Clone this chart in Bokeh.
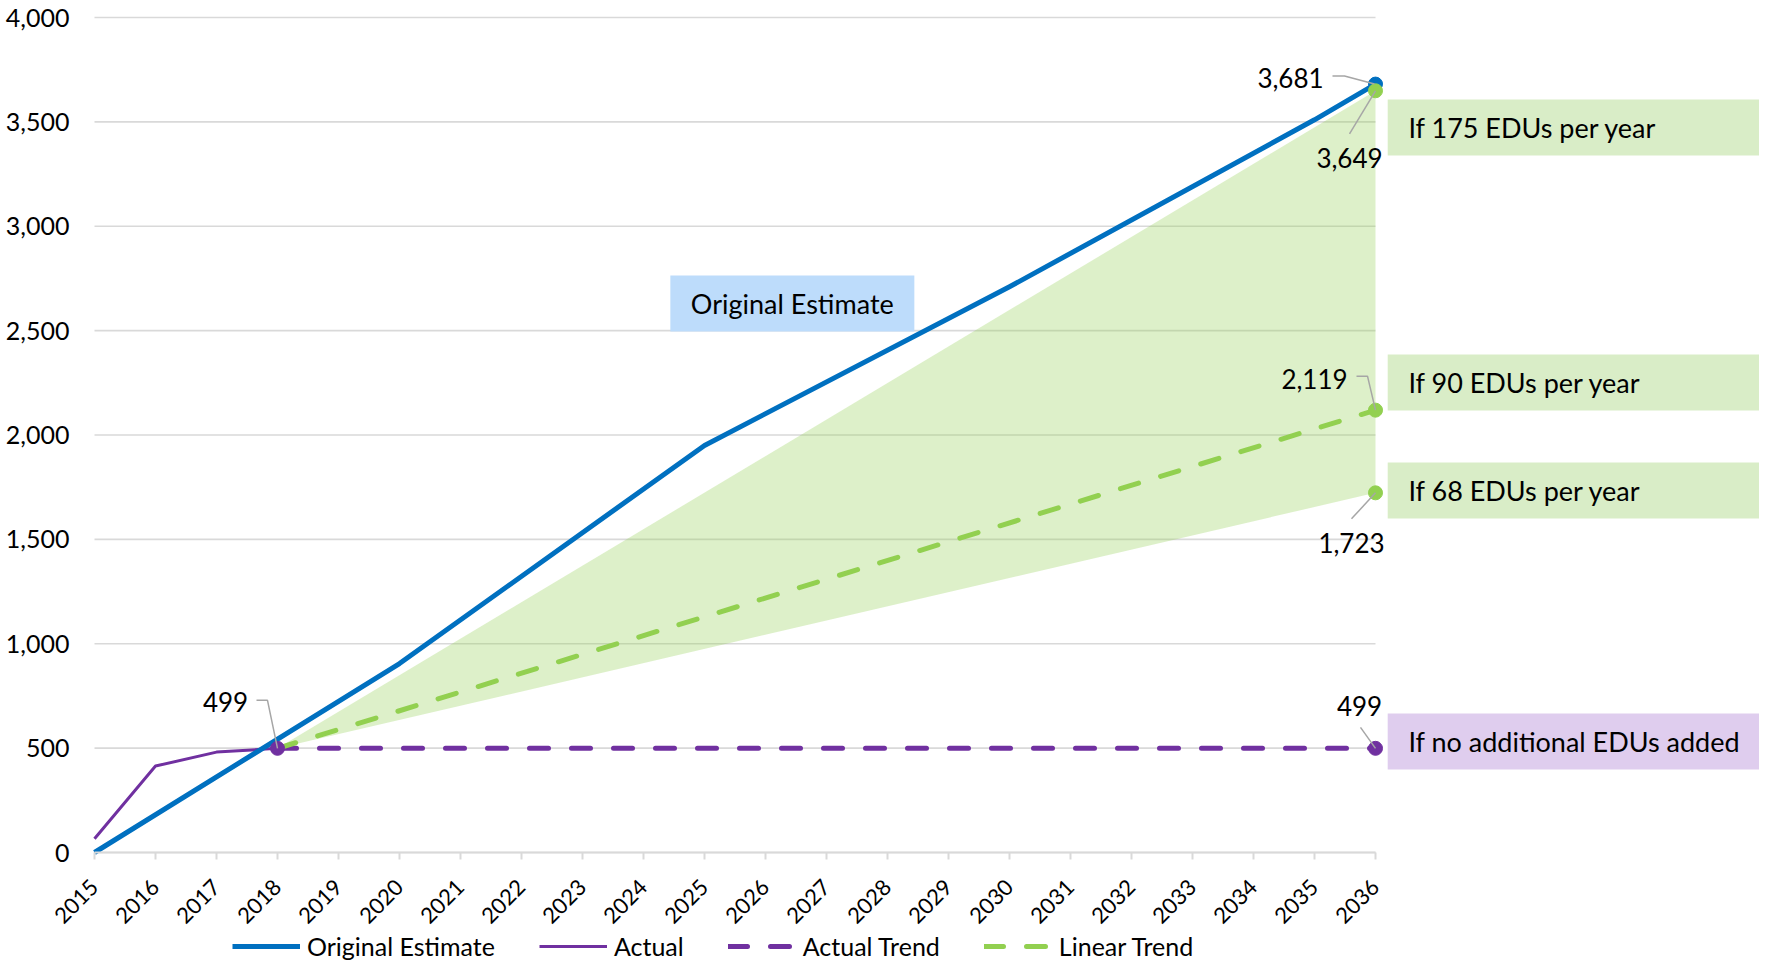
import math
from bokeh.plotting import figure
from bokeh.models import Range1d, FixedTicker, NumeralTickFormatter, Legend, LegendItem
from bokeh.core.properties import value
from bokeh.embed import file_html
from bokeh.resources import INLINE

# ---------------- data ----------------
YEARS = [2015, 2016, 2017, 2018, 2019, 2020, 2021, 2022, 2023, 2024, 2025,
         2026, 2027, 2028, 2029, 2030, 2031, 2032, 2033, 2034, 2035, 2036]
Y_TICKS = [0, 500, 1000, 1500, 2000, 2500, 3000, 3500, 4000]

EST_YEARS = [2015, 2020, 2025, 2030, 2035, 2036]
EST_VALUES = [0, 905, 1950, 2710, 3510, 3681]

ACT_YEARS = [2015, 2016, 2017, 2018]
ACT_VALUES = [66, 414, 481, 499]

TREND_YEARS = [2018, 2036]
ACT_TREND = [499, 499]
LIN_TREND = [499, 2119]      # 90 EDUs per year
HIGH_TREND = [499, 3649]     # 175 EDUs per year
LOW_TREND = [499, 1723]      # 68 EDUs per year

POINT_YEARS = [2018, 2036, 2036, 2036, 2036, 2036]
POINT_VALUES = [499, 3681, 3649, 2119, 1723, 499]

SCENARIO_TEXT = ["If 175 EDUs per year", "If 90 EDUs per year",
                 "If 68 EDUs per year", "If no additional EDUs added"]
LEGEND_LABELS = ["Original Estimate", "Actual", "Actual Trend", "Linear Trend"]
EST_BOX_TEXT = "Original Estimate"

# ---------------- styles / layout ----------------
BLUE = "#0070C0"
PURPLE = "#7030A0"
GREEN = "#92D050"
GRID = "#D9D9D9"
LEADER = "#A6A6A6"
FONT = "Lato"

FIG_W, FIG_H = 1759, 961
ORIGIN_X, ORIGIN_Y = 94, 852      # pixel position of (2015, 0)
XPX = 61.0                        # px per year
YPX = 0.20875                     # px per unit
X_START = YEARS[0] - ORIGIN_X / XPX
X_END = X_START + FIG_W / XPX
Y_END = ORIGIN_Y / YPX
Y_START = Y_END - FIG_H / YPX


def ox(x, dx):
    return x + dx / XPX


def oy(y, dy):
    return y - dy / YPX


p = figure(width=FIG_W, height=FIG_H, output_backend="svg", toolbar_location=None,
           x_range=Range1d(X_START, X_END), y_range=Range1d(Y_START, Y_END),
           min_border_left=0, min_border_right=0, min_border_top=0, min_border_bottom=0)
p.outline_line_color = None
p.grid.visible = False
p.background_fill_color = "white"

# gridlines limited to the data span
p.segment(x0=[YEARS[0]] * len(Y_TICKS), x1=[YEARS[-1]] * len(Y_TICKS),
          y0=Y_TICKS, y1=Y_TICKS, line_color=GRID, line_width=1.6)

# shaded band between 68 and 175 EDUs/yr
p.varea(x=TREND_YEARS, y1=LOW_TREND, y2=HIGH_TREND, fill_color=GREEN, fill_alpha=0.31)

r_act_trend = p.line(TREND_YEARS, ACT_TREND, line_color=PURPLE, line_width=5,
                     line_dash="19 23", line_cap="round")
r_lin_trend = p.line(TREND_YEARS, LIN_TREND, line_color=GREEN, line_width=5,
                     line_dash="19 23", line_cap="round")
r_act = p.line(ACT_YEARS, ACT_VALUES, line_color=PURPLE, line_width=3, line_join="round")
r_est = p.line(EST_YEARS, EST_VALUES, line_color=BLUE, line_width=5, line_join="round")

# markers
MARK_COLORS = [PURPLE, BLUE, GREEN, GREEN, GREEN, PURPLE]
p.scatter(x=POINT_YEARS, y=POINT_VALUES, fill_color=MARK_COLORS, line_color=MARK_COLORS, size=14)

# data labels and leader lines
LABEL_DX = [-52, -85, -26, -61, -24, -16]
LABEL_DY = [-46, -6, 67, -31, 50, -42]
LEADERS = [[(-21, -48), (-10, -48), (0, 0)],
           [(-43, -8), (-31, -8), (-1, 0)],
           [(-26, 43), (0, 0)],
           [(-19, -34), (-8, -34), (0, 0)],
           [(-24, 26), (0, 0)],
           [(-15, -21), (0, 0)]]
lx, ly = [], []
for x, y, pts in zip(POINT_YEARS, POINT_VALUES, LEADERS):
    lx.append([ox(x, d[0]) for d in pts])
    ly.append([oy(y, d[1]) for d in pts])
p.multi_line(xs=lx, ys=ly, line_color=LEADER, line_width=1.5)

p.text(x=[ox(x, dx) for x, dx in zip(POINT_YEARS, LABEL_DX)],
       y=[oy(y, dy) for y, dy in zip(POINT_VALUES, LABEL_DY)],
       text=[f"{v:,}" for v in POINT_VALUES],
       text_font=value(FONT), text_font_size="26px", text_color="#000000",
       text_align="center", text_baseline="middle")

# scenario callout boxes at right
BOX_LEFT = 2036.2
BOX_RIGHT = X_END + 1
BOX_TOP = [3607, 2386, 1868, 666]
BOX_BOTTOM = [3339, 2117, 1600, 398]
BOX_COLORS = ["#D9EDC7", "#D9EDC7", "#D9EDC7", "#DFCDEE"]
p.quad(left=[BOX_LEFT] * 4, right=[BOX_RIGHT] * 4, top=BOX_TOP, bottom=BOX_BOTTOM,
       fill_color=BOX_COLORS, line_color=None)
p.text(x=[2036.54] * 4, y=[(t + b) / 2 for t, b in zip(BOX_TOP, BOX_BOTTOM)],
       text=SCENARIO_TEXT, text_font=value(FONT), text_font_size="27px",
       text_color="#000000", text_align="left", text_baseline="middle")

# "Original Estimate" box
p.quad(left=[2024.44], right=[2028.44], top=[2764], bottom=[2496],
       fill_color="#BDDCFB", line_color=None)
p.text(x=[2026.44], y=[2630], text=[EST_BOX_TEXT], text_font=value(FONT),
       text_font_size="27px", text_color="#000000", text_align="center",
       text_baseline="middle")

# axes (pinned at the data origin)
xa = p.xaxis[0]
xa.fixed_location = 0
xa.ticker = FixedTicker(ticks=YEARS)
xa.bounds = (YEARS[0], YEARS[-1])
xa.axis_line_color = GRID
xa.axis_line_width = 2
xa.major_tick_line_color = GRID
xa.major_tick_line_width = 2
xa.major_tick_out = 7
xa.major_tick_in = 0
xa.minor_tick_line_color = None
xa.major_label_orientation = math.pi / 4
xa.major_label_text_font = FONT
xa.major_label_text_font_size = "22px"
xa.major_label_text_color = "#000000"
xa.major_label_standoff = 24

ya = p.yaxis[0]
ya.fixed_location = YEARS[0]
ya.ticker = FixedTicker(ticks=Y_TICKS)
ya.formatter = NumeralTickFormatter(format="0,0")
ya.axis_line_color = None
ya.major_tick_line_color = None
ya.major_tick_out = 0
ya.major_tick_in = 0
ya.minor_tick_line_color = None
ya.major_label_text_font = FONT
ya.major_label_text_font_size = "25px"
ya.major_label_text_color = "#000000"
ya.major_label_standoff = 25

legend = Legend(items=[LegendItem(label=LEGEND_LABELS[0], renderers=[r_est]),
                       LegendItem(label=LEGEND_LABELS[1], renderers=[r_act]),
                       LegendItem(label=LEGEND_LABELS[2], renderers=[r_act_trend]),
                       LegendItem(label=LEGEND_LABELS[3], renderers=[r_lin_trend])],
                orientation="horizontal", location=(232, 0),
                label_text_font=FONT, label_text_font_size="25px", label_text_color="#000000",
                glyph_width=68, glyph_height=24, label_height=24, label_standoff=7,
                spacing=44, padding=0, margin=0, border_line_color=None,
                background_fill_alpha=0)
p.add_layout(legend, "center")

open("out.html", "w").write(file_html(p, INLINE))
